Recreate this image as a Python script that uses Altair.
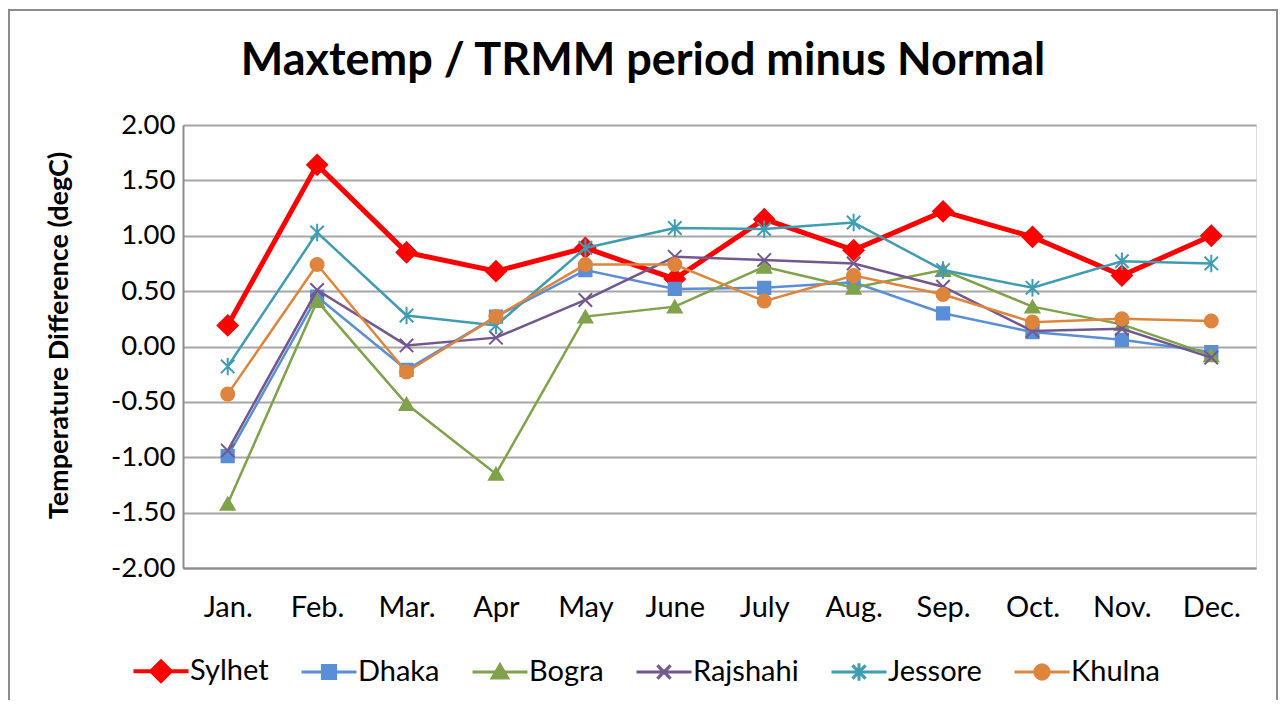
import altair as alt
import pandas as pd

months = ["Jan.", "Feb.", "Mar.", "Apr", "May", "June", "July", "Aug.", "Sep.", "Oct.", "Nov.", "Dec."]
series_names = ["Sylhet", "Dhaka", "Bogra", "Rajshahi", "Jessore", "Khulna"]
sylhet = [0.19, 1.64, 0.85, 0.68, 0.89, 0.61, 1.15, 0.87, 1.22, 0.99, 0.64, 1.00]
dhaka = [-0.99, 0.45, -0.21, 0.27, 0.69, 0.52, 0.53, 0.58, 0.30, 0.13, 0.06, -0.05]
bogra = [-1.42, 0.41, -0.52, -1.15, 0.27, 0.36, 0.72, 0.53, 0.69, 0.36, 0.20, -0.08]
rajshahi = [-0.94, 0.51, 0.01, 0.08, 0.42, 0.81, 0.78, 0.75, 0.54, 0.14, 0.16, -0.10]
jessore = [-0.18, 1.03, 0.28, 0.19, 0.89, 1.07, 1.06, 1.12, 0.69, 0.53, 0.77, 0.75]
khulna = [-0.43, 0.74, -0.23, 0.27, 0.74, 0.74, 0.41, 0.64, 0.47, 0.22, 0.25, 0.23]
y_ticks = [-2.0, -1.5, -1.0, -0.5, 0.0, 0.5, 1.0, 1.5, 2.0]

colors = ["#ff0000", "#5a8fd6", "#7fa24a", "#73588f", "#3f9cb2", "#de843c"]
line_widths = [5, 2.5, 2.5, 2.5, 2.5, 2.5]
marker_shapes = [
    "diamond",
    "square",
    "triangle-up",
    "M-1,-1L1,1M-1,1L1,-1",
    "M-1,-1L1,1M-1,1L1,-1M0,-1.3L0,1.3",
    "circle",
]
marker_sizes = [400, 150, 190, 180, 180, 170]
legend_paths = [
    "M-1,0L1,0M-1,0.02L1,0.02M-1,-0.02L1,-0.02M0,-0.38L0.38,0L0,0.38L-0.38,0Z",
    "M-1,0L1,0M-0.24,-0.24L0.24,-0.24L0.24,0.24L-0.24,0.24Z",
    "M-1,0L1,0M0,-0.26L0.28,0.22L-0.28,0.22Z",
    "M-1,0L1,0M-0.24,-0.24L0.24,0.24M-0.24,0.24L0.24,-0.24",
    "M-1,0L1,0M-0.24,-0.24L0.24,0.24M-0.24,0.24L0.24,-0.24M0,-0.32L0,0.32",
    "M-1,0L1,0M-0.26,0A0.26,0.26,0,1,0,0.26,0A0.26,0.26,0,1,0,-0.26,0Z",
]

values = [sylhet, dhaka, bogra, rajshahi, jessore, khulna]
rows = []
for name, vals in zip(series_names, values):
    for m, v in zip(months, vals):
        rows.append({"series": name, "month": m, "value": v})
df = pd.DataFrame(rows)

FONT = "Lato"

x_enc = alt.X(
    "month:N",
    sort=months,
    scale=alt.Scale(type="point", padding=0.5),
    axis=alt.Axis(
        title=None, labelAngle=0, labelFont=FONT, labelFontSize=29, labelColor="black",
        ticks=False, tickSize=0, grid=False, domainColor="#8c8c8c", domainWidth=2,
        labelPadding=25,
    ),
)
y_enc = alt.Y(
    "value:Q",
    scale=alt.Scale(domain=[-2, 2], nice=False, zero=False),
    axis=alt.Axis(
        values=y_ticks, labelExpr="replace(format(datum.value, '.2f'), '\u2212', '-')",
        labelFont=FONT, labelFontSize=27.5, labelColor="black",
        ticks=False, tickSize=0, domainColor="#8c8c8c", domainWidth=2,
        gridColor="#a6a6a6", gridWidth=2, labelPadding=8,
        title="Temperature Difference (degC)", titleFont=FONT, titleFontSize=27,
        titleFontWeight="bold", titleColor="black", titleAngle=270,
        titleX=-124, titleY=210, titleAlign="center", titleBaseline="middle",
    ),
)

base = alt.Chart(df)
layers = []
# outer chart frame
layers.append(
    alt.Chart(pd.DataFrame({"a": [0]})).mark_rect(
        filled=False, stroke="#8c8c8c", strokeWidth=2
    ).encode(x=alt.value(-174), x2=alt.value(1094), y=alt.value(-115), y2=alt.value(600))
)
for name, col, lw, shp, sz in zip(series_names, colors, line_widths, marker_shapes, marker_sizes):
    sub = base.transform_filter(alt.datum.series == name)
    layers.append(sub.mark_line(color=col, strokeWidth=lw).encode(x=x_enc, y=y_enc))
    layers.append(
        sub.mark_point(
            shape=shp, filled=True, fill=col, stroke=col, strokeWidth=2, size=sz, opacity=1
        ).encode(x=x_enc, y=y_enc)
    )

leg = alt.Legend(
    title=None, orient="none", legendX=-51, legendY=517, direction="horizontal",
    labelFont=FONT, labelFontSize=29, labelColor="black", symbolSize=3025,
    symbolStrokeWidth=3, labelOffset=0, columnPadding=26, padding=0,
)
legend_layer = base.mark_point(filled=True, opacity=1, size=3025).encode(
    fill=alt.Fill("series:N", scale=alt.Scale(domain=series_names, range=colors), legend=leg),
    stroke=alt.Stroke("series:N", scale=alt.Scale(domain=series_names, range=colors), legend=leg),
    shape=alt.Shape("series:N", scale=alt.Scale(domain=series_names, range=legend_paths), legend=leg),
).transform_filter("false")
layers.append(legend_layer)

chart = alt.layer(*layers).properties(
    width=1073,
    height=443,
    padding={"left": 175, "top": 117, "right": 23, "bottom": 132},
    autosize=alt.AutoSizeParams(type="none"),
    title=alt.TitleParams(
        "Maxtemp / TRMM period minus Normal", font=FONT, fontSize=45, fontWeight="bold",
        color="black", anchor="middle", frame="bounds", offset=0, baseline="alphabetic", dy=111,
    ),
).configure_view(fill="#f2f2f2", stroke="#8aa5d0", strokeWidth=1.5).configure(background="white")

chart.save("out.html", embed_options={"renderer": "svg", "actions": False})
